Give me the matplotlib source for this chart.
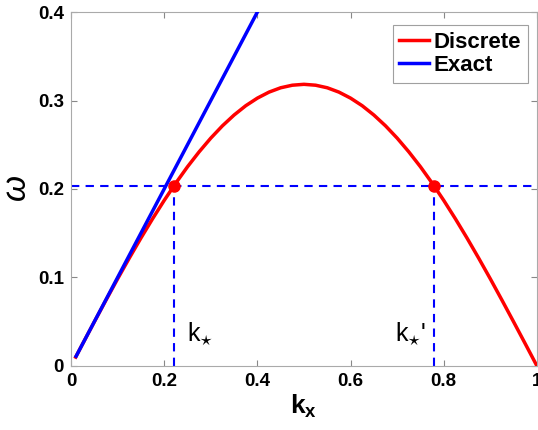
import matplotlib
matplotlib.use("Agg")
import matplotlib.pyplot as plt

plt.rcParams['font.family'] = ['Liberation Sans', 'DejaVu Sans']
plt.rcParams['mathtext.fontset'] = 'custom'
plt.rcParams['mathtext.rm'] = 'Liberation Sans'
plt.rcParams['mathtext.it'] = 'Liberation Sans:italic'
plt.rcParams['mathtext.bf'] = 'Liberation Sans:bold'

# Discrete dispersion curve
k_disc = [0.010, 0.025, 0.050, 0.075, 0.100, 0.125, 0.150, 0.175, 0.200, 0.225,
          0.250, 0.275, 0.300, 0.325, 0.350, 0.375, 0.400, 0.425, 0.450, 0.475,
          0.500, 0.525, 0.550, 0.575, 0.600, 0.625, 0.650, 0.675, 0.700, 0.725,
          0.750, 0.775, 0.800, 0.825, 0.850, 0.875, 0.900, 0.925, 0.950, 0.975, 1.000]
w_disc = [0.0100, 0.0250, 0.0498, 0.0743, 0.0984, 0.1218, 0.1445, 0.1663, 0.1871, 0.2067,
          0.2251, 0.2420, 0.2575, 0.2714, 0.2836, 0.2941, 0.3027, 0.3095, 0.3144, 0.3173,
          0.3183, 0.3173, 0.3144, 0.3095, 0.3027, 0.2941, 0.2836, 0.2714, 0.2575, 0.2420,
          0.2251, 0.2067, 0.1871, 0.1663, 0.1445, 0.1218, 0.0984, 0.0743, 0.0498, 0.0250, 0.0000]
# Exact dispersion line
k_exact = [0.011, 0.45]
w_exact = [0.011, 0.45]
# Intersection points
k_star = [0.22, 0.78]
w_star = 0.203
star_labels = [r'$\mathrm{k}_{\star}$', r"$\mathrm{k}_{\star}$'"]

fig = plt.figure(figsize=(5.38, 4.30), dpi=100)
ax = fig.add_axes([0.132, 0.149, 0.866, 0.823])

ax.plot(k_disc, w_disc, color='red', lw=2.5, label='Discrete', zorder=3)
ax.plot(k_exact, w_exact, color='blue', lw=2.5, label='Exact', zorder=4)
ax.axhline(w_star, color='blue', ls=(0, (4, 3)), lw=1.5, zorder=2)
for k in k_star:
    ax.plot([k, k], [0, w_star], color='blue', ls=(0, (4, 3)), lw=1.5, zorder=2)
ax.plot(k_star, [w_star, w_star], 'o', color='red', ms=8, zorder=5)

ax.text(0.25, 0.037, star_labels[0], fontsize=18, ha='left', va='center')
ax.text(0.763, 0.037, star_labels[1], fontsize=18, ha='right', va='center')

ax.set_xlim(0, 1)
ax.set_ylim(0, 0.4)
ax.set_xticks([0, 0.2, 0.4, 0.6, 0.8, 1])
ax.set_xticklabels(['0', '0.2', '0.4', '0.6', '0.8', '1'])
ax.set_yticks([0, 0.1, 0.2, 0.3, 0.4])
ax.set_yticklabels(['0', '0.1', '0.2', '0.3', '0.4'])
for lab in ax.get_xticklabels() + ax.get_yticklabels():
    lab.set_fontweight('bold')
    lab.set_fontsize(13.5)
ax.tick_params(direction='in', top=True, right=True, length=4, color='#888888', width=0.8, pad=5)
for s in ax.spines.values():
    s.set_color('#aaaaaa')
    s.set_linewidth(0.8)

ax.set_xlabel(r'$\mathbf{k_x}$', fontsize=19, labelpad=2)
ax.set_ylabel(r'$\omega$', fontsize=24, labelpad=4, family=['DejaVu Serif'])

leg = ax.legend(loc='upper right', bbox_to_anchor=(0.981, 0.963),
                prop={'weight': 'bold', 'size': 16},
                frameon=True, fancybox=False, handlelength=1.35, handletextpad=0.2,
                borderpad=0.3, labelspacing=0.1, borderaxespad=0.0)
leg.get_frame().set_edgecolor('#888888')
leg.get_frame().set_linewidth(0.8)

fig.savefig('out.png', dpi=100)
